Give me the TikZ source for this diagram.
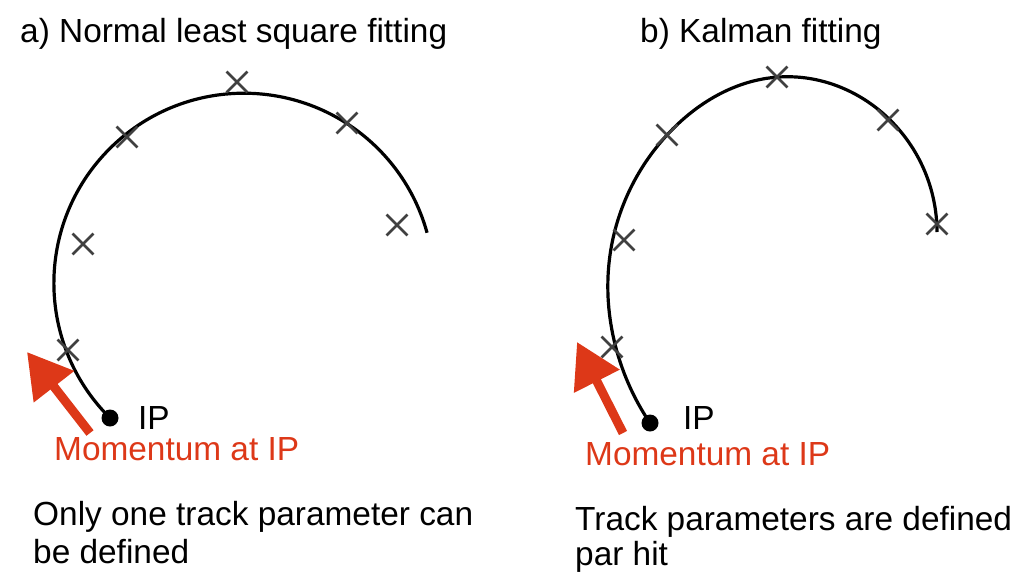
\documentclass[tikz,border=0pt]{standalone}
\usepackage{fontspec}
\setmainfont{Liberation Sans}
\usetikzlibrary{arrows.meta,shapes.misc,hobby}
\definecolor{momred}{RGB}{221,56,24}
\definecolor{hitgray}{RGB}{64,64,64}
\tikzset{
  lbl/.style={inner sep=0pt, anchor=base west, font=\fontsize{33.4pt}{38pt}\selectfont},
  redlbl/.style={lbl, text=momred},
  track/.style={line width=3.2pt, black},
  hit/.style={cross out, draw=hitgray, line width=2.8pt, minimum size=18pt, inner sep=0pt},
  ipdot/.style={circle, fill=black, inner sep=0pt, minimum size=17pt},
  momarrow/.style={line width=9pt, momred, -{Triangle[length=44pt,width=49pt]}}
}
\begin{document}
\begin{tikzpicture}[x=1pt,y=-1pt]
\useasboundingbox (0,0) rectangle (1011,573);
% titles
\node[lbl] (ta) at (20,42) {a) Normal least square fitting};
\node[lbl] (tb) at (640,42) {b) Kalman fitting};
% panel a
\node[ipdot] (ipa) at (110,418) {};
\draw[track] (ipa.center) arc[start angle=134.8, end angle=344.6, radius=190];
\node[hit] (ha1) at (68,350) {};
\node[hit] (ha2) at (83,244) {};
\node[hit] (ha3) at (127,137) {};
\node[hit] (ha4) at (237,82) {};
\node[hit] (ha5) at (347,123) {};
\node[hit] (ha6) at (397,225) {};
\node[lbl] (ipla) at (138,429) {IP};
\coordinate (maTail) at (90,433);
\coordinate (maTip) at (27,352);
\draw[momarrow] (maTail) -- (maTip);
\node[redlbl] (mla) at (54,460) {Momentum at IP};
\node[lbl] (da1) at (33,525) {Only one track parameter can};
\node[lbl] (da2) at (33,563) {be defined};
% panel b
\node[ipdot] (ipb) at (650,423) {};
\draw[track, use Hobby shortcut] (ipb.center) .. (614,340) .. (610,255) .. (667,135) .. (779,77) .. (888,118) .. (937,232);
\node[hit] (hb1) at (612,347) {};
\node[hit] (hb2) at (624,240) {};
\node[hit] (hb3) at (667,135) {};
\node[hit] (hb4) at (777,77) {};
\node[hit] (hb5) at (888,120) {};
\node[hit] (hb6) at (937,224) {};
\node[lbl] (iplb) at (683,429) {IP};
\coordinate (mbTail) at (623,433);
\coordinate (mbTip) at (577,342);
\draw[momarrow] (mbTail) -- (mbTip);
\node[redlbl] (mlb) at (585,465) {Momentum at IP};
\node[lbl] (db1) at (575,530) {Track parameters are defined};
\node[lbl] (db2) at (575,565) {par hit};
\end{tikzpicture}
\end{document}
